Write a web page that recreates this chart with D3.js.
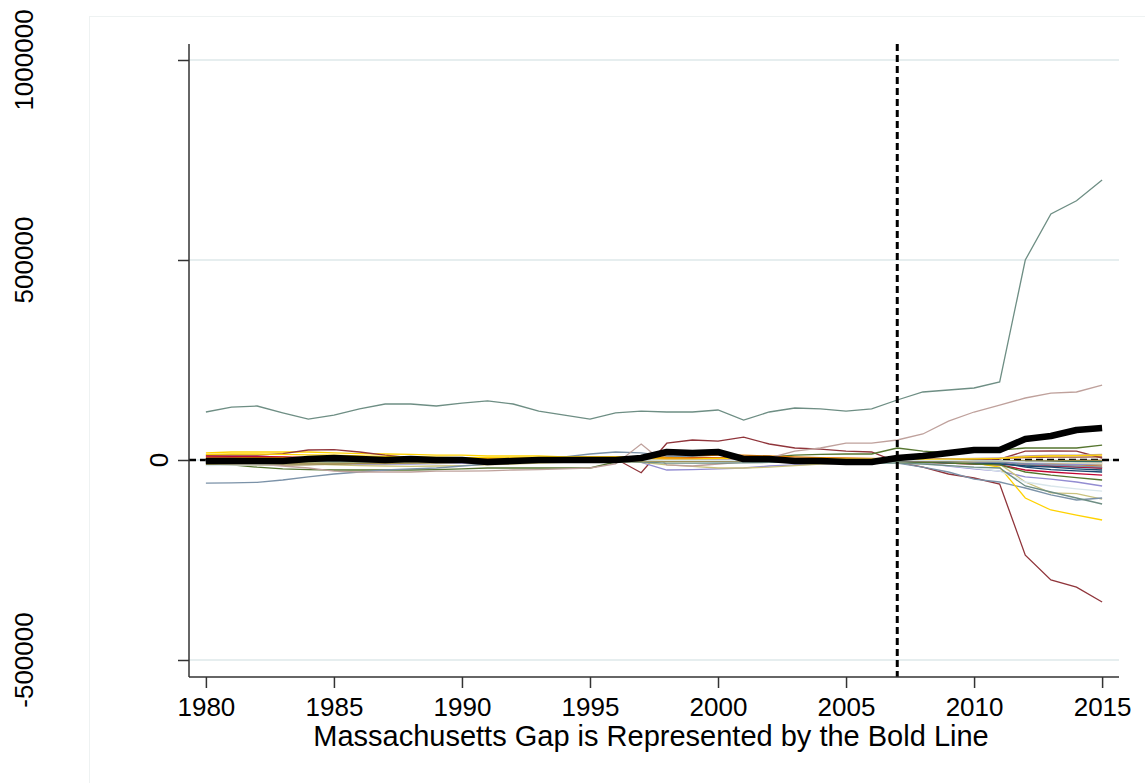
<!DOCTYPE html>
<html>
<head>
<meta charset="utf-8">
<script src="https://cdn.jsdelivr.net/npm/d3@7"></script>
<style>
  body { margin: 0; background: #fff; }
  text { font-family: "Liberation Sans", Arial, sans-serif; fill: #000; }
</style>
</head>
<body>
<svg id="chart"></svg>
<script>
// years on the x axis
const years = d3.range(1980, 2016);
const treatYear = 2007;
const yTicks = [-500000, 0, 500000, 1000000];
const xTicks = [1980, 1985, 1990, 1995, 2000, 2005, 2010, 2015];

// Massachusetts gap (thousands)
const maGap = [-2.5,-2.5,-2.5,-2.5,2.5,5,2.5,0,2.5,0,0,-5,-2.5,0,0,0,0,5,20,17.5,20,2.5,2.5,-2.5,-2.5,-5,-5,5,10,17.5,25,25,52.5,60,75,80];

// placebo gaps for the donor states (thousands)
const placeboGaps = [
  [-5,-6,-6,-5,-4,-4,-3,-3,-2,-2,-2,-1,-1,0,0,1,1,0,-2,-3,-3,-2,-1,-1,0,0,1,0,-2,-4,-5,-6,-18,-24,-27,-30],
  [3,3,2,2,2,2,2,1,1,0,0,0,1,2,3,4,3,-32,42,50,47,57,40,30,27,22,20,-5,-18,-35,-45,-60,-238,-300,-318,-355],
  [-10,-12,-18,-22,-24,-25,-25,-25,-25,-24,-22,-20,-20,-20,-20,-20,-5,-2,-3,-3,-2,5,8,12,14,15,15,30,22,18,20,25,30,30,30,37],
  [8,8,7,7,6,6,5,5,5,4,4,4,5,6,7,8,8,6,8,10,12,12,10,8,6,5,4,3,2,0,-2,-4,-8,-10,-12,-15],
  [120,132,135,118,102,112,128,140,140,135,142,148,140,122,112,102,118,122,120,120,125,100,120,130,128,122,128,150,170,175,180,195,500,615,648,700],
  [10,9,9,8,6,4,2,0,-1,-2,-2,-1,0,1,2,2,1,0,-1,-2,-2,-1,0,1,1,0,-1,-2,-5,-8,-10,-12,-25,-30,-34,-38],
  [-6,-7,-8,-8,-8,-9,-10,-10,-10,-9,-8,-7,-6,-5,-4,-3,-2,-6,-25,-24,-22,-20,-15,-12,-10,-8,-6,-4,-8,-15,-22,-28,-42,-48,-55,-65],
  [-4,-5,-6,-8,-10,-12,-14,-15,-16,-15,-14,-12,-10,-8,-6,-5,-4,-6,-12,-16,-20,-20,-18,-14,-10,-8,-6,-4,-5,-6,-8,-10,-55,-82,-84,-98],
  [0,1,1,2,2,2,1,1,0,0,-1,-1,-1,0,0,1,1,2,2,3,3,2,2,1,1,0,0,-1,-2,-2,-3,-3,-4,-4,-5,-5],
  [-58,-57,-56,-50,-42,-35,-30,-25,-22,-20,-15,-10,-5,0,8,15,20,18,10,8,5,3,1,0,-2,-4,-6,-8,-18,-30,-48,-55,-70,-87,-100,-95],
  [2,2,1,1,0,0,-1,-1,-2,-2,-2,-1,-1,0,0,-1,-1,-2,-3,-3,-4,-4,-3,-3,-3,-2,-2,-2,-4,-6,-8,-10,-14,-16,-18,-20],
  [-12,-12,-13,-13,-12,-10,-8,-7,-6,-5,-4,-3,-3,-2,-2,-1,-1,-1,-2,-2,-1,-1,0,0,1,1,1,2,1,0,-1,-2,-4,-5,-6,-8],
  [-5,-8,-10,-15,-20,-28,-30,-30,-30,-28,-28,-27,-25,-24,-22,-20,-10,40,-12,-15,-10,-5,5,22,30,42,42,50,65,97,120,137,155,167,170,187],
  [18,20,20,20,20,18,16,15,14,12,12,10,10,10,8,8,8,7,6,6,5,5,4,3,4,3,2,0,-2,-5,-8,-18,-95,-125,-138,-150],
  [-14,-13,-12,-11,-10,-9,-8,-8,-7,-7,-6,-6,-5,-5,-4,-4,-3,-3,-4,-4,-5,-5,-5,-6,-6,-6,-7,-8,-10,-14,-20,-28,-55,-65,-72,-78],
  [-2,-2,-3,-3,-3,-2,-2,-1,-1,0,0,1,1,1,2,2,2,1,0,0,-1,-1,-1,-2,-2,-2,-3,-3,-5,-7,-9,-10,-15,-18,-22,-25],
  [12,13,12,16,25,26,20,12,6,3,1,0,0,1,1,2,2,3,2,1,1,0,0,-1,-1,0,1,2,3,2,1,2,22,23,22,5],
  [-3,-3,-4,-4,-4,-5,-5,-5,-4,-4,-3,-3,-2,-2,-1,-1,0,0,-1,-1,-2,-2,-2,-2,-3,-3,-3,-4,-6,-8,-10,-12,-30,-38,-44,-50],
  [5,5,6,6,5,5,4,4,3,3,2,2,2,2,3,3,3,4,5,6,6,6,5,4,3,2,1,0,-1,-2,-3,-4,-6,-7,-8,-10],
  [-8,-8,-7,-7,-6,-6,-5,-5,-4,-4,-3,-3,-2,-2,-2,-3,-4,-5,-8,-8,-8,-7,-6,-6,-6,-7,-8,-8,-10,-14,-18,-20,-65,-80,-95,-110],
  [4,4,3,3,3,2,2,1,1,1,0,0,0,1,1,1,0,0,3,4,4,3,2,2,1,1,0,-1,-2,-3,-4,-5,-10,-14,-17,-20],
  [-3,-3,-2,-2,-2,-1,-1,-1,0,0,0,1,1,1,1,0,0,-1,-2,-2,-2,-1,-1,0,0,1,1,0,-1,-2,-3,-4,-8,-10,-11,-12],
  [-6,-6,-6,-7,-7,-8,-8,-8,-8,-7,-6,-5,-4,-3,-2,-1,0,-2,-4,-4,-3,-2,-1,0,1,1,2,2,1,0,-1,-2,-5,-7,-8,-10],
  [1,1,1,0,0,-1,-1,-1,-1,0,0,0,1,1,1,1,1,0,0,1,1,1,0,0,0,1,1,1,2,2,3,4,6,7,7,8],
  [-4,-4,-4,-3,-3,-2,-2,-2,-1,-1,-1,0,0,0,0,0,-1,-1,-2,-2,-2,-2,-1,-1,-1,-1,-1,-2,-3,-4,-5,-6,-10,-13,-15,-18],
  [0,0,0,0,-1,-1,-1,-1,-1,0,0,0,0,0,1,1,1,1,0,0,0,0,1,1,1,1,1,0,0,-1,-1,-2,-3,-3,-4,-4],
  [-8,-9,-9,-10,-10,-10,-9,-9,-8,-7,-6,-5,-4,-4,-3,-3,-2,-2,-3,-3,-3,-2,-2,-2,-1,-1,-1,-1,-2,-2,-3,-3,-2,-2,-1,-1],
  [-2,-2,-2,-1,-1,-1,0,0,0,0,0,1,1,1,1,2,2,2,1,1,1,1,2,2,2,2,2,2,3,3,4,5,10,12,12,14],
  [14,15,15,14,13,12,10,9,8,7,6,6,5,5,5,4,4,3,3,3,4,4,3,3,2,2,2,1,1,2,3,4,8,10,11,12],
  [-1,-1,-1,-1,0,0,0,0,1,1,1,1,1,1,0,0,0,0,-1,-1,-1,-1,0,0,0,0,0,0,-1,-1,-2,-2,-5,-6,-7,-8]
];

// Stata s2color palette
const s2color = ['#1a476f','#90353b','#55752f','#e37e00','#6e8e84','#c10534','#938dd2',
  '#cac27e','#a0522d','#7b92a8','#2d6d66','#9c8847','#bfa19c','#ffd200','#d9e6eb'];

const WIDTH = 1145;
const HEIGHT = 783;
const plot = { left: 189, right: 1119, top: 44, bottom: 677 };

const svg = d3.select('#chart')
    .attr('width', WIDTH)
    .attr('height', HEIGHT);

// faint outer frame of the graph region
svg.append('rect')
    .attr('x', 89.5).attr('y', 16.5)
    .attr('width', 1100).attr('height', 800)
    .attr('fill', 'none')
    .attr('stroke', '#eef2f2');

const x = d3.scaleLinear()
    .domain([1979.34, 2015.66])
    .range([plot.left, plot.right]);

const y = d3.scaleLinear()
    .domain([-542500, 1040000])
    .range([plot.bottom, plot.top]);

const color = d3.scaleOrdinal().range(s2color);

// grid lines
svg.append('g')
    .selectAll('line')
    .data(yTicks)
    .join('line')
    .attr('x1', plot.left).attr('x2', plot.right)
    .attr('y1', d => y(d)).attr('y2', d => y(d))
    .attr('stroke', '#e6eeef')
    .attr('stroke-width', 2);

// dashed zero line, under the data
svg.append('line')
    .attr('x1', plot.left).attr('x2', plot.right)
    .attr('y1', y(0)).attr('y2', y(0))
    .attr('stroke', '#000')
    .attr('stroke-width', 2.5)
    .attr('stroke-dasharray', '7,4');

const line = d3.line()
    .x((d, i) => x(years[i]))
    .y(d => y(d * 1000));

// placebo lines
svg.append('g')
    .selectAll('path')
    .data(placeboGaps)
    .join('path')
    .attr('d', line)
    .attr('fill', 'none')
    .attr('stroke', (d, i) => color(i))
    .attr('stroke-width', 1.3);

// treatment year
svg.append('line')
    .attr('x1', x(treatYear)).attr('x2', x(treatYear))
    .attr('y1', plot.top).attr('y2', plot.bottom)
    .attr('stroke', '#000')
    .attr('stroke-width', 3)
    .attr('stroke-dasharray', '7,4');

// Massachusetts, bold
svg.append('path')
    .datum(maGap)
    .attr('d', line)
    .attr('fill', 'none')
    .attr('stroke', '#000')
    .attr('stroke-width', 6.5)
    .attr('stroke-linejoin', 'round');

// Y axis
const yAxis = svg.append('g')
    .attr('transform', `translate(${plot.left},0)`)
    .call(d3.axisLeft(y).tickValues(yTicks).tickSize(11).tickFormat(''));
yAxis.select('.domain')
    .attr('d', `M0,${plot.top}V${plot.bottom}`)
    .attr('stroke', '#333').attr('stroke-width', 1.5);
yAxis.selectAll('.tick line').attr('stroke', '#333').attr('stroke-width', 1.5);

svg.append('g')
    .selectAll('text')
    .data(yTicks)
    .join('text')
    .attr('transform', d => `translate(${d === 0 ? 168 : 33},${y(d)}) rotate(-90)`)
    .attr('text-anchor', 'middle')
    .style('font-size', '26px')
    .text(d => String(d));

// X axis
const xAxis = svg.append('g')
    .attr('transform', `translate(0,${plot.bottom})`)
    .call(d3.axisBottom(x).tickValues(xTicks).tickSize(11).tickPadding(10).tickFormat(d3.format('d')));
xAxis.select('.domain')
    .attr('d', `M${plot.left},0H${plot.right}`)
    .attr('stroke', '#333').attr('stroke-width', 1.5);
xAxis.selectAll('.tick line').attr('stroke', '#333').attr('stroke-width', 1.5);
xAxis.selectAll('.tick text')
    .attr('fill', '#000')
    .style('font-size', '26px')
    .style('font-family', '"Liberation Sans", Arial, sans-serif');

svg.append('text')
    .attr('x', (plot.left + plot.right) / 2 - 3)
    .attr('y', 746)
    .attr('text-anchor', 'middle')
    .style('font-size', '29px')
    .text('Massachusetts Gap is Represented by the Bold Line');
</script>
</body>
</html>
